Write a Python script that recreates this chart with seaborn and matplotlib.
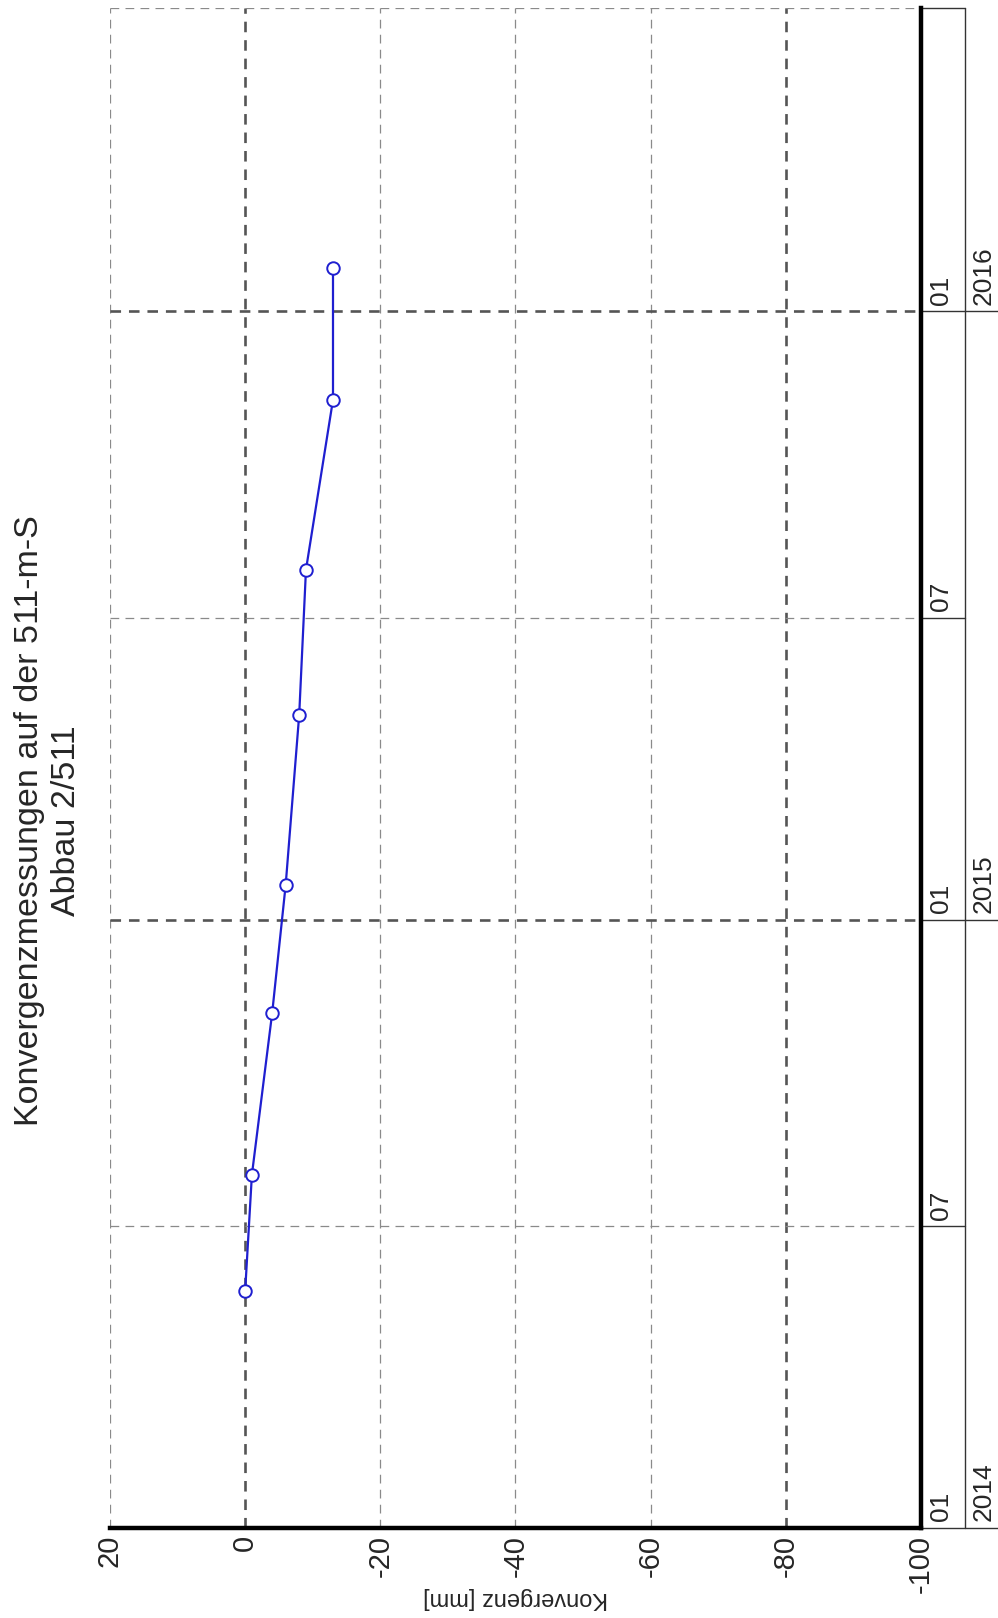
import numpy as np
import pandas as pd
import seaborn as sns
import matplotlib.pyplot as plt
import matplotlib.dates as mdates
from matplotlib.transforms import blended_transform_factory

# measurement dates and convergence values (mm)
dates = ["2014-05-23", "2014-08-01", "2014-11-06", "2015-01-22",
         "2015-05-04", "2015-07-30", "2015-11-09", "2016-01-27"]
konvergenz = [0, -1, -4, -6, -8, -9, -13, -13]

x_ticks = [20, 0, -20, -40, -60, -80, -100]
half_years = ["2014-01-01", "2014-07-01", "2015-01-01", "2015-07-01", "2016-01-01"]
month_labels = ["01", "07", "01", "07", "01"]
years = ["2014", "2015", "2016"]

df = pd.DataFrame({"datum": pd.to_datetime(dates), "konvergenz": konvergenz})

sns.set_style("white")
plt.rcParams["font.family"] = ["Liberation Sans", "DejaVu Sans"]

fig = plt.figure(figsize=(9.98, 16.18), dpi=100)
ax = fig.add_axes([0.1102, 0.0556, 0.8126, 0.9394])

sns.lineplot(data=df, x="konvergenz", y="datum", sort=False, estimator=None,
             color="#1f1fd0", lw=1.6, marker="o", markersize=9,
             markerfacecolor="white", markeredgecolor="#1f1fd0",
             markeredgewidth=1.4, ax=ax, zorder=5)

t0 = mdates.date2num(pd.Timestamp("2014-01-01"))
t1 = mdates.date2num(pd.Timestamp("2016-07-01"))
ax.set_xlim(20, -100)
ax.set_ylim(t0, t1)

# grid lines: thick ones at 0 / -80 mm and at year changes
thick_style = dict(color="#555555", ls=(0, (4, 3)), lw=1.9, zorder=1)
thin_style = dict(color="#8a8a8a", ls=(0, (7, 5)), lw=0.9, zorder=1)
for v in x_ticks[:-1]:
    ax.axvline(v, **(thick_style if v in (0, -80) else thin_style))
hy = [mdates.date2num(pd.Timestamp(d)) for d in half_years]
for d, m in zip(hy, month_labels):
    if d == t0:
        continue
    ax.axhline(d, **(thick_style if m == "01" else thin_style))
ax.axhline(t1, **thin_style)

# spines
for s in ["top", "left"]:
    ax.spines[s].set_visible(False)
for s in ["bottom", "right"]:
    ax.spines[s].set_linewidth(3.2)
    ax.spines[s].set_color("black")

ax.set_xticks(x_ticks)
ax.set_xticklabels([str(v) for v in x_ticks], rotation=90, fontsize=21)
ax.set_xticks(np.arange(10, -100, -20), minor=True)
ax.tick_params(axis="x", which="major", length=0, pad=5)
ax.tick_params(axis="x", which="minor", direction="in", length=5, width=1, color="black")
ax.set_yticks([])
ax.set_xlabel("Konvergenz [mm]", fontsize=17, rotation=180, va="center")
ax.xaxis.set_label_coords(0.5, -0.046)
ax.set_ylabel("")

# date label columns on the right
tr = blended_transform_factory(ax.transAxes, ax.transData)
x_col = 1.054
x_edge = 1.12
ax.plot([x_col, x_col], [t0, t1], transform=tr, color="#333333", lw=1, clip_on=False)
ax.plot([1.0, x_col], [t1, t1], transform=tr, color="#333333", lw=1, clip_on=False)
for d, m in zip(hy, month_labels):
    end = x_edge if m == "01" else x_col
    ax.plot([1.0, end], [d, d], transform=tr, color="#333333", lw=1, clip_on=False)
    ax.text(1.025, d + 4, m, transform=tr, rotation=90, ha="center", va="bottom",
            fontsize=19, clip_on=False)
for d, y in zip(hy[::2], years):
    ax.text(1.077, d + 4, y, transform=tr, rotation=90, ha="center", va="bottom",
            fontsize=19, clip_on=False)

fig.text(0.048, 0.4926, "Konvergenzmessungen auf der 511-m-S\nAbbau 2/511",
         rotation=90, ha="center", va="center", multialignment="center",
         fontsize=24.5, linespacing=1.25)

fig.savefig("out.png", dpi=100)
